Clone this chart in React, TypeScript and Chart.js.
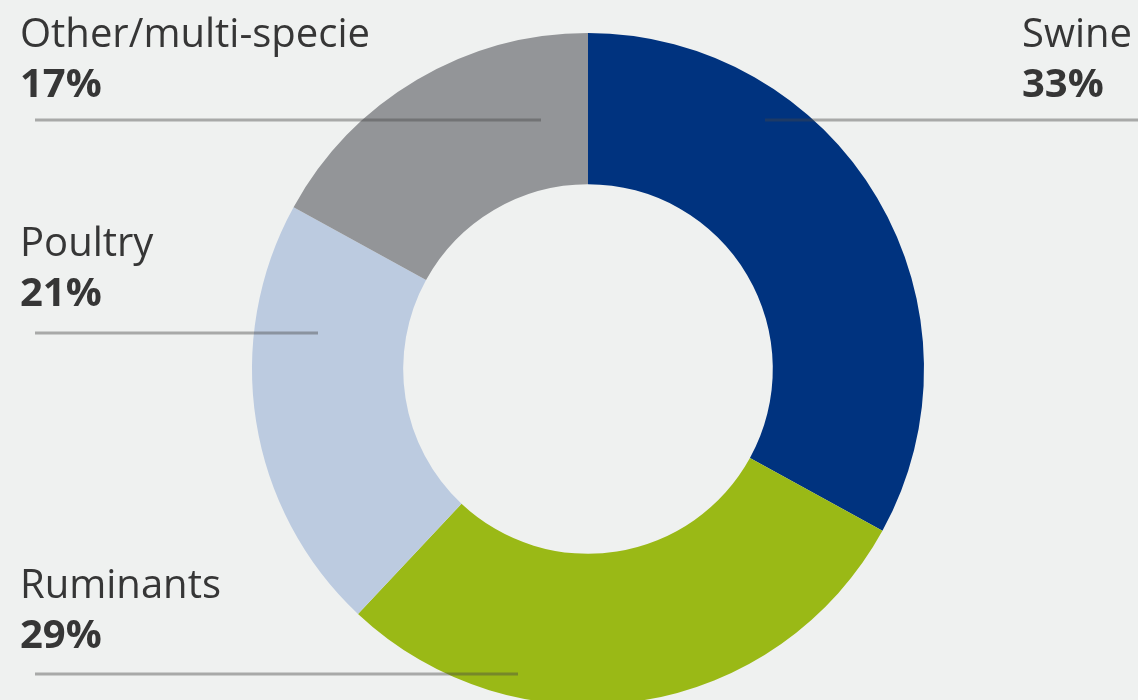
import React, { useEffect, useRef } from "react";
import { Chart, registerables } from "chart.js";

Chart.register(...registerables);

const categories = ["Swine", "Ruminants", "Poultry", "Other/multi-specie"];
const shares = [33, 29, 21, 17];
const colors = ["#00337f", "#9ab916", "#bccbe0", "#939598"];

const W = 1138;
const H = 740;

export default function App() {
  const ref = useRef<HTMLCanvasElement | null>(null);

  useEffect(() => {
    document.body.style.margin = "0";
    document.body.style.background = "#eff1f0";
    const canvas = ref.current!;
    const labelPlugin = {
      id: "labels",
      afterDraw(chart: any) {
        const ctx = chart.ctx as CanvasRenderingContext2D;
        const meta = chart.getDatasetMeta(0);
        const arcs = meta.data;
        const layout: Record<string, { tx: number; ty: number; lx0: number; lx1: number; ly: number }> = {
          "Swine": { tx: 1022, ty: 47, lx0: 765, lx1: 1138, ly: 120 },
          "Ruminants": { tx: 20, ty: 598, lx0: 35, lx1: 518, ly: 674 },
          "Poultry": { tx: 20, ty: 256, lx0: 35, lx1: 318, ly: 333 },
          "Other/multi-specie": { tx: 20, ty: 47, lx0: 35, lx1: 541, ly: 120 },
        };
        ctx.save();
        categories.forEach((c, i) => {
          const l = layout[c];
          if (!arcs[i]) return;
          ctx.strokeStyle = "rgba(70,70,70,0.42)";
          ctx.lineWidth = 3;
          ctx.beginPath();
          ctx.moveTo(l.lx0, l.ly);
          ctx.lineTo(l.lx1, l.ly);
          ctx.stroke();
          ctx.fillStyle = "#363636";
          ctx.textBaseline = "alphabetic";
          ctx.textAlign = "left";
          ctx.font = "40px 'Open Sans'";
          ctx.fillText(c, l.tx, l.ty);
          ctx.font = "bold 40px 'Open Sans'";
          ctx.fillText(shares[i] + "%", l.tx, l.ty + 50);
        });
        ctx.restore();
      },
    };
    const chart = new Chart(canvas, {
      type: "doughnut",
      data: {
        labels: categories,
        datasets: [
          {
            data: shares,
            backgroundColor: colors,
            borderWidth: 0,
          },
        ],
      },
      options: {
        responsive: false,
        animation: false,
        cutout: "55%",
        layout: { padding: { left: 38, top: 33, bottom: 35, right: 0 } },
        plugins: {
          legend: { display: false },
          tooltip: { enabled: false },
        },
      },
      plugins: [labelPlugin],
    });
    return () => chart.destroy();
  }, []);

  return (
    <div style={{ position: "relative", width: W, height: 700, overflow: "hidden", background: "#eff1f0" }}>
      <canvas ref={ref} width={W} height={H} style={{ position: "absolute", left: 0, top: 0, width: W, height: H }} />
    </div>
  );
}
